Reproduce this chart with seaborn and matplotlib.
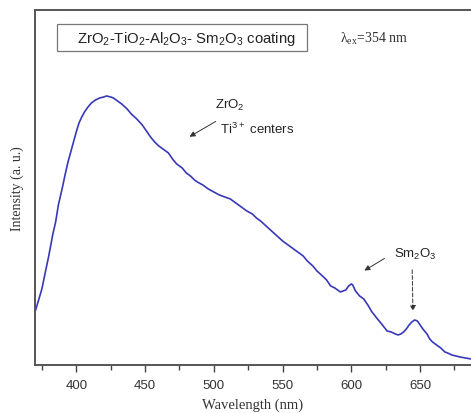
import numpy as np
import pandas as pd
import matplotlib
matplotlib.use("Agg")
import matplotlib.pyplot as plt
from matplotlib.patches import Rectangle
import seaborn as sns

# Emission spectrum (wavelength in nm, intensity in a.u.)
wavelength = [370, 372, 375, 378, 380, 383, 385, 387, 390, 392, 394, 397, 400,
              402, 404, 406, 408, 411, 414, 417, 420, 422, 425, 427, 430, 433,
              437, 440, 444, 448, 451, 454, 457, 460, 463, 467, 470, 473, 477,
              480, 483, 486, 488, 492, 496, 500, 504, 508, 512, 516, 520, 524,
              528, 531, 534, 538, 542, 546, 550, 554, 558, 561, 565, 568, 572,
              575, 579, 582, 585, 588, 590, 592, 594, 596, 598, 600, 601, 603,
              606, 609, 612, 615, 619, 622, 626, 629, 632, 634, 636, 638, 640,
              642, 644, 646, 648, 650, 652, 655, 657, 659, 662, 665, 668, 670,
              673, 676, 679, 683, 687]
intensity = [53, 62, 76, 96, 109, 131, 143, 160, 178, 191, 203, 218, 233,
             242, 248, 253, 257, 262, 265, 267, 268, 269, 268, 267, 264, 261,
             256, 251, 246, 240, 234, 228, 223, 219, 216, 212, 206, 201, 197,
             192, 189, 185, 183, 180, 176, 173, 170, 168, 166, 162, 158, 154,
             151, 147, 144, 139, 134, 129, 124, 120, 116, 113, 109, 104, 99,
             94, 89, 85, 79, 77, 75, 73, 74, 75, 79, 81, 80, 74,
             69, 66, 60, 53, 46, 41, 34, 33, 31, 30, 31, 33, 36,
             40, 43, 45, 44, 40, 36, 31, 26, 23, 20, 17, 13, 12,
             10, 9, 8, 7, 6]

x_ticks = [400, 450, 500, 550, 600, 650]

df = pd.DataFrame({"Wavelength": wavelength, "Intensity": intensity})

sns.set_style("ticks")
plt.rcParams['font.family'] = ['Liberation Sans', 'DejaVu Sans']

fig = plt.figure(figsize=(4.71, 4.14), dpi=100)
ax = fig.add_axes([0.0743, 0.116, 0.9257, 0.8575])

sns.lineplot(data=df, x="Wavelength", y="Intensity", color="#3838b8",
             linewidth=1.2, ax=ax)

ax.set_xlim(370, 687)
ax.set_ylim(0, 355)
ax.set_xticks(x_ticks)
ax.set_xticks(np.arange(375, 690, 50), minor=True)
ax.set_yticks([])
ax.tick_params(axis="x", which="major", direction="out", length=5, width=1,
               color="#444444", labelsize=9.5, labelcolor="#333333", pad=5)
ax.tick_params(axis="x", which="minor", direction="out", length=3.5, width=1,
               color="#444444")
for side in ["left", "bottom", "top"]:
    ax.spines[side].set_color("#555555")
    ax.spines[side].set_linewidth(1.4)
ax.spines["right"].set_visible(False)

ax.set_xlabel("Wavelength (nm)", family="Liberation Serif", fontsize=10.5,
              color="#333333", labelpad=5)
ax.set_ylabel("Intensity (a. u.)", family="Liberation Serif", fontsize=10,
              color="#333333", labelpad=8)

# boxed title inside the plot
ax.add_patch(Rectangle((0.0505, 0.8845), 0.573, 0.076, transform=ax.transAxes,
                       fill=False, ec="#777777", lw=0.9))
ax.text(0.348, 0.922,
        r"ZrO$_\mathregular{2}$-TiO$_\mathregular{2}$-Al$_\mathregular{2}$O$_\mathregular{3}$- "
        r"Sm$_\mathregular{2}$O$_\mathregular{3}$ coating",
        transform=ax.transAxes, fontsize=10.7, color="#222222", va="center",
        ha="center")
ax.text(0.70, 0.922, r"λ$_\mathregular{ex}$=354 nm", transform=ax.transAxes,
        family="Liberation Serif", fontsize=10, color="#333333", va="center")

# annotations
ax.text(0.447, 0.735, r"ZrO$_\mathregular{2}$", transform=ax.transAxes,
        fontsize=9.5, color="#222222", ha="center", va="center")
ax.text(0.424, 0.665, r"Ti$^\mathregular{3+}$ centers", transform=ax.transAxes,
        fontsize=9.5, color="#222222", va="center")
ax.annotate("", xy=(0.349, 0.639), xytext=(0.42, 0.69),
            xycoords="axes fraction",
            arrowprops=dict(arrowstyle="-|>", color="#333333", lw=0.7,
                            mutation_scale=8))

ax.text(0.872, 0.313, r"Sm$_\mathregular{2}$O$_\mathregular{3}$",
        transform=ax.transAxes, fontsize=9.5, color="#222222", ha="center",
        va="center")
ax.annotate("", xy=(0.75, 0.262), xytext=(0.807, 0.304),
            xycoords="axes fraction",
            arrowprops=dict(arrowstyle="-|>", color="#333333", lw=0.7,
                            mutation_scale=8))
ax.annotate("", xy=(0.867, 0.144), xytext=(0.865, 0.276),
            xycoords="axes fraction",
            arrowprops=dict(arrowstyle="-|>", color="#333333", lw=0.7,
                            linestyle=(0, (4, 2)), mutation_scale=8))

fig.savefig("out.png", dpi=100)
